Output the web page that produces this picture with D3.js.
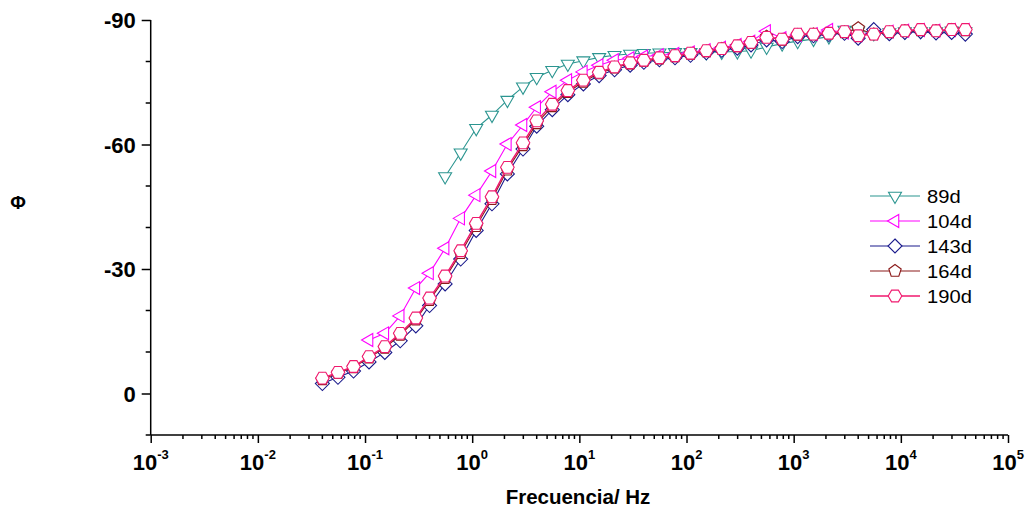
<!DOCTYPE html>
<html>
<head>
<meta charset="utf-8">
<script src="https://cdn.jsdelivr.net/npm/d3@7"></script>
<style>
  body { margin: 0; background: #fff; }
  text { font-family: Arial, "Liberation Sans", sans-serif; }
</style>
</head>
<body>
<div id="chart-area"></div>
<script>
// frequencies: 7 points per decade from 0.04 Hz to 40 kHz
var freqs = [0.04, 0.0559, 0.0781, 0.109, 0.153, 0.213, 0.298, 0.4, 0.559, 0.781,
    1.09, 1.53, 2.13, 2.98, 4.0, 5.59, 7.81, 10.9, 15.3, 21.3, 29.8,
    40, 55.9, 78.1, 109, 153, 213, 298, 400, 559, 781,
    1090, 1530, 2130, 2980, 4000, 5590, 7810, 10900, 15300, 21300, 29800, 40000];

var phi89 = [null, null, null, null, null, null, null, null,
    -52.3, -58.0, -63.9, -67.1, -70.7, -73.9, -76.2, -77.9, -79.4, -80.2, -81.0, -81.5,
    -81.8, -82.0, -82.1, -82.2, -82.2, -82.2, -82.3, -82.4, -82.6, -83.5, -84.3,
    -84.9, -85.4, -86.0, -87.6, -87.4, -86.8, -87.0, -87.2, -87.3, -87.2, -87.4, -87.3];
var phi104 = [null, null, null, -12.9, -14.5, -18.7, -25.4, -29.0, -35.0, -42.2,
    -47.8, -53.6, -60.1, -64.7, -69.0, -72.7, -75.5, -77.5, -79.1, -80.3, -80.8,
    -81.2, -81.5, -81.8, -82.2, -82.7, -83.3, -84.0, -84.8, -87.3, -85.6,
    -86.4, -86.6, -87.6, -87.0, -86.4, -86.8, -87.2, -87.4, -87.6, -87.4, -87.6, -87.6];
var phi143 = [-2.4, -3.9, -5.4, -7.6, -9.9, -12.7, -16.3, -21.2, -26.4, -32.4,
    -39.3, -45.7, -52.9, -58.9, -64.4, -68.4, -72.0, -74.6, -76.6, -78.0, -79.1,
    -79.8, -80.4, -80.9, -81.5, -82.1, -82.7, -83.2, -84.0, -85.2, -84.8,
    -86.0, -86.2, -86.5, -86.8, -85.6, -87.7, -86.7, -87.0, -87.2, -86.9, -87.0, -86.6];
var phi164 = [-3.4, -4.9, -6.3, -8.6, -11.0, -14.1, -17.8, -22.5, -27.8, -33.8,
    -40.3, -46.8, -53.9, -59.8, -65.1, -69.2, -72.6, -75.1, -77.1, -78.5, -79.5,
    -80.1, -80.7, -81.2, -81.8, -82.4, -83.0, -83.6, -84.4, -86.0, -85.2,
    -86.4, -86.5, -86.7, -87.0, -88.0, -86.5, -87.0, -87.3, -87.5, -87.3, -87.6, -87.5];
var phi190 = [-3.7, -5.1, -6.5, -8.9, -11.3, -14.5, -18.2, -23.0, -28.3, -34.4,
    -41.0, -47.4, -54.5, -60.4, -65.7, -69.7, -73.0, -75.5, -77.4, -78.7, -79.7,
    -80.3, -80.9, -81.4, -82.0, -82.6, -83.1, -83.8, -84.6, -85.8, -85.4,
    -86.6, -86.6, -86.8, -87.2, -86.2, -86.6, -87.2, -87.4, -87.7, -87.4, -87.7, -87.7];

var seriesNames = ["89d", "104d", "143d", "164d", "190d"];
var seriesValues = [phi89, phi104, phi143, phi164, phi190];
var seriesColors = ["#2b9590", "#ff00ff", "#1a1a8c", "#8b1a1a", "#f0196e"];

var yTicks = [-90, -60, -30, 0];
var yMinor = [-80, -70, -50, -40, -20, -10, 10];
var xExps = [-3, -2, -1, 0, 1, 2, 3, 4, 5];

var width = 1030, height = 512;

var svg = d3.select("#chart-area")
    .append("svg")
        .attr("width", width)
        .attr("height", height);

//Scales
var x = d3.scaleLog()
    .domain([1e-3, 1e5])
    .range([150.7, 1008]);
var y = d3.scaleLinear()
    .domain([10, -90])
    .range([435, 20]);

// polygon symbols (n sides, rotation in degrees, size = radius)
function poly(n, rot) {
    return {
        draw: function(context, r) {
            for (var i = 0; i < n; i++) {
                var a = (rot + i * 360 / n) * Math.PI / 180;
                var px = r * Math.sin(a), py = -r * Math.cos(a);
                if (i == 0) context.moveTo(px, py); else context.lineTo(px, py);
            }
            context.closePath();
        }
    };
}
var symbolTypes = [poly(3, 180), poly(3, 270), poly(4, 0), poly(5, 0), poly(6, 90)];
var symbolSizes = [7.5, 7.5, 7, 6.5, 6.8];

//Y Axis
var yAxisCall = d3.axisLeft(y)
    .tickValues(yTicks)
    .tickSize(9)
    .tickPadding(6)
    .tickFormat(function(d) { return d; });

var yAxis = svg.append("g")
    .attr("transform", "translate(150.7, 0)")
    .call(yAxisCall);
yAxis.select(".domain").attr("d", "M0," + y(-90) + "V" + y(10));

yAxis.selectAll(".minor")
    .data(yMinor)
    .enter().append("line")
        .attr("class", "minor")
        .attr("x1", -5).attr("x2", 0)
        .attr("y1", function(d) { return y(d); })
        .attr("y2", function(d) { return y(d); })
        .attr("stroke", "#000");

//X Axis
var xAxisCall = d3.axisBottom(x)
    .tickValues(xExps.map(function(e) { return Math.pow(10, e); }))
    .tickSize(8)
    .tickFormat("");

var xAxis = svg.append("g")
    .attr("transform", "translate(0, 435)")
    .call(xAxisCall);
xAxis.select(".domain").attr("d", "M" + x(1e-3) + ",0H" + x(1e5));

var xMinor = [];
for (var e = -3; e < 5; e++) {
    for (var m = 2; m < 10; m++) xMinor.push(m * Math.pow(10, e));
}
xAxis.selectAll(".minor")
    .data(xMinor)
    .enter().append("line")
        .attr("class", "minor")
        .attr("x1", function(d) { return x(d); })
        .attr("x2", function(d) { return x(d); })
        .attr("y1", 0).attr("y2", 4)
        .attr("stroke", "#000");

svg.selectAll(".domain, .tick line, .minor")
    .attr("stroke", "#000")
    .attr("stroke-width", 1.5);

yAxis.selectAll(".tick text")
    .attr("font-size", "22px")
    .attr("font-weight", "bold")
    .attr("fill", "#000")
    .attr("dy", "0.36em");

// x tick labels 10^n
xExps.forEach(function(e) {
    var t = svg.append("text")
        .attr("x", x(Math.pow(10, e)))
        .attr("y", 470)
        .attr("text-anchor", "middle")
        .attr("font-weight", "bold")
        .attr("font-size", "22px");
    t.append("tspan").text("10");
    t.append("tspan")
        .attr("dy", -11)
        .attr("font-size", "13px")
        .text(e);
});

// axis titles
svg.append("text")
    .attr("x", 578)
    .attr("y", 504)
    .attr("text-anchor", "middle")
    .attr("font-weight", "bold")
    .attr("font-size", "20.5px")
    .text("Frecuencia/ Hz");

svg.append("text")
    .attr("x", 18)
    .attr("y", 209)
    .attr("text-anchor", "middle")
    .attr("font-weight", "bold")
    .attr("font-size", "19px")
    .text("Φ");

// series
var line = d3.line()
    .defined(function(d) { return d.v != null; })
    .x(function(d) { return x(d.f); })
    .y(function(d) { return y(d.v); });

seriesNames.forEach(function(name, i) {
    var data = freqs.map(function(f, j) { return { f: f, v: seriesValues[i][j] }; });
    var g = svg.append("g").attr("class", "series");

    g.append("path")
        .datum(data)
        .attr("fill", "none")
        .attr("stroke", seriesColors[i])
        .attr("stroke-width", i == 4 ? 1.5 : 1.1)
        .attr("d", line);

    g.selectAll("path.mark")
        .data(data.filter(function(d) { return d.v != null; }))
        .enter().append("path")
            .attr("class", "mark")
            .attr("transform", function(d) { return "translate(" + x(d.f) + "," + y(d.v) + ")"; })
            .attr("d", d3.symbol().type(symbolTypes[i]).size(symbolSizes[i]))
            .attr("fill", "#fff")
            .attr("stroke", seriesColors[i])
            .attr("stroke-width", 1.1);
});

//Legend
var legend = svg.append("g")
    .attr("transform", "translate(870, 196)");

seriesNames.forEach(function(name, i) {
    var row = legend.append("g")
        .attr("transform", "translate(0, " + (i * 25) + ")");
    row.append("line")
        .attr("x1", 0).attr("x2", 50)
        .attr("stroke", seriesColors[i])
        .attr("stroke-width", i == 4 ? 1.5 : 1.1);
    row.append("path")
        .attr("transform", "translate(25, 0)")
        .attr("d", d3.symbol().type(symbolTypes[i]).size(symbolSizes[i]))
        .attr("fill", "#fff")
        .attr("stroke", seriesColors[i])
        .attr("stroke-width", 1.1);
    row.append("text")
        .attr("transform", "translate(57, 6.5) scale(1.12, 1)")
        .attr("font-size", "18px")
        .text(name);
});
</script>
</body>
</html>
